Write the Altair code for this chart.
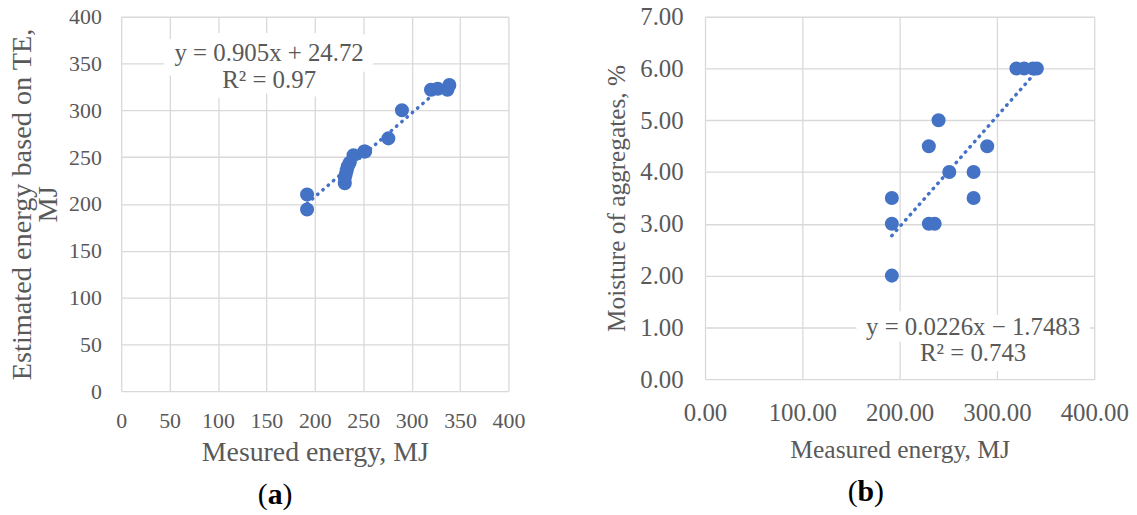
import altair as alt
import pandas as pd

# ---------------- data ----------------
# panel (a)
a_measured = [192, 192, 231, 231, 232, 233, 234, 236, 240, 251, 252, 276, 290, 320, 327, 337, 339]
a_estimated = [210, 194, 222, 228, 232, 236, 240, 244, 252, 256, 256, 270, 300, 322, 323, 322, 327]
a_ticks = [0, 50, 100, 150, 200, 250, 300, 350, 400]
a_equation = ["y = 0.905x + 24.72", "R² = 0.97"]

# panel (b)
b_measured = [192, 192, 192, 230, 236, 230, 240, 251, 276, 276, 290, 320, 328, 337, 341]
b_moisture = [2.0, 3.0, 3.5, 3.0, 3.0, 4.5, 5.0, 4.0, 4.0, 3.5, 4.5, 6.0, 6.0, 6.0, 6.0]
b_xticks = [0, 100, 200, 300, 400]
b_yticks = [0, 1, 2, 3, 4, 5, 6, 7]
b_equation = ["y = 0.0226x \u2212 1.7483", "R² = 0.743"]

FONT = "Liberation Serif"
GREY = "#595959"
BLUE = "#4472C4"
GRID = "#d9d9d9"


def text_mark(txt, x, y, size, color=GREY, weight="normal", align="center", halo=False):
    src = alt.Chart(pd.DataFrame({"t": [txt]}))
    kw = dict(font=FONT, fontSize=size, fontWeight=weight, align=align, baseline="alphabetic")
    if halo:
        m = src.mark_text(color="white", stroke="white", strokeWidth=22, strokeJoin="round", **kw)
    else:
        m = src.mark_text(color=color, **kw)
    return m.encode(text="t:N", x=alt.value(x), y=alt.value(y))


def panel(df, xscale, yscale, xaxis, yaxis, eq, eq_pos, eq_size, tag, tag_pos, tag_half):
    base = alt.Chart(df)
    pts = base.mark_circle(size=200, color=BLUE, opacity=1).encode(
        x=alt.X("x:Q", scale=xscale, axis=xaxis),
        y=alt.Y("y:Q", scale=yscale, axis=yaxis),
    )
    trend = base.transform_regression("x", "y").mark_line(
        color=BLUE, strokeWidth=3.5, strokeDash=[0.5, 6.5], strokeCap="round"
    ).encode(x="x:Q", y="y:Q")
    (cx, y1), (_, y2) = eq_pos
    layers = [
        text_mark(eq[0], cx, y1, eq_size, halo=True),
        text_mark(eq[1], cx, y2, eq_size, halo=True),
        pts,
        trend,
        text_mark(eq[0], cx, y1, eq_size),
        text_mark(eq[1], cx, y2, eq_size),
    ]
    tx, ty = tag_pos
    layers += [
        text_mark("(", tx - tag_half, ty, 30, color="black", align="right"),
        text_mark(tag, tx, ty, 30, color="black", weight="bold"),
        text_mark(")", tx + tag_half, ty, 30, color="black", align="left"),
    ]
    return alt.layer(*layers)


dfa = pd.DataFrame({"x": a_measured, "y": a_estimated})
chart_a = panel(
    dfa,
    alt.Scale(domain=[0, 400], nice=False, zero=False),
    alt.Scale(domain=[0, 400], nice=False, zero=False),
    alt.Axis(values=a_ticks, title="Mesured energy, MJ", labelFontSize=22, titleFontSize=28,
             labelPadding=20, titlePadding=7, labelFlush=False),
    alt.Axis(values=a_ticks, title=["Estimated energy based on TE,", "MJ"], labelFontSize=22,
             titleFontSize=28.5, titleLineHeight=26, labelPadding=20, titlePadding=6, labelFlush=False),
    a_equation, [(149, 45), (149, 72)], 25,
    "a", (155, 491), 7.5,
).properties(width=390, height=377)

dfb = pd.DataFrame({"x": b_measured, "y": b_moisture})
chart_b = panel(
    dfb,
    alt.Scale(domain=[0, 400], nice=False, zero=False),
    alt.Scale(domain=[0, 7], nice=False, zero=False),
    alt.Axis(values=b_xticks, format=".2f", title="Measured energy, MJ", labelFontSize=25,
             titleFontSize=25.7, labelPadding=22, titlePadding=12, labelFlush=False),
    alt.Axis(values=b_yticks, format=".2f", title="Moisture of aggregates, %", labelFontSize=25,
             titleFontSize=25.5, labelPadding=22, titlePadding=10, labelFlush=False),
    b_equation, [(270, 321), (270, 347)], 25,
    "b", (162, 488), 8.3,
).properties(width=392, height=365)

chart = alt.hconcat(
    chart_a, chart_b, spacing=80,
    padding={"left": 0, "top": -5, "right": 0, "bottom": 0},
).configure_axis(
    grid=True, gridColor=GRID, gridWidth=1.3, domain=False, ticks=False,
    labelFont=FONT, titleFont=FONT, labelColor=GREY, titleColor=GREY,
    titleFontWeight="normal",
).configure_view(strokeWidth=0)

chart.save("out.html", embed_options={"renderer": "svg", "actions": False})
